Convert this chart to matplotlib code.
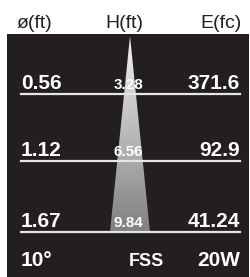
import numpy as np
import matplotlib.pyplot as plt
from matplotlib.patches import Rectangle, Polygon

# ==========================================
# BEAM DATA
# ==========================================

headers = ["ø(ft)", "H(ft)", "E(fc)"]
diameter = ["0.56", "1.12", "1.67"]
height = ["3.28", "6.56", "9.84"]
illuminance = ["371.6", "92.9", "41.24"]
footer = ["10°", "FSS", "20W"]

# ==========================================
# FIGURE (pixel coordinates)
# ==========================================

W, H = 251, 277
fig = plt.figure(figsize=(W / 100, H / 100), dpi=100)
fig.patch.set_facecolor("white")
ax = fig.add_axes([0, 0, 1, 1])
ax.set_xlim(0, W)
ax.set_ylim(H, 0)
ax.axis("off")

bg = "#231f20"
font = "Liberation Sans"
ax.add_patch(Rectangle((7, 34), 242, 243, facecolor=bg, edgecolor="none"))

# header
hx = [34, 124, 221]
for x, t in zip(hx, headers):
    ax.text(x, 28, t, ha="center", va="baseline", fontsize=14,
            color="#231f20", family=font)

# cone with gradient
apex_y, base_y = 36, 232
cone = Polygon([(130, apex_y), (150, base_y), (110, base_y)], closed=True,
               facecolor="none", edgecolor="none")
ax.add_patch(cone)
grad = np.linspace(0.95, 0.5, 200).reshape(-1, 1)
img = ax.imshow(grad, cmap="gray", vmin=0, vmax=1, aspect="auto",
                extent=[110, 150, base_y, apex_y], zorder=2)
img.set_clip_path(cone)

# rows
row_line = [94, 161, 232]
for i in range(3):
    y = row_line[i]
    ax.plot([21, 240], [y, y], color="#e6e6e6", linewidth=1.6, zorder=3)
    ax.text(21, y - 5, diameter[i], ha="left", va="baseline", fontsize=15,
            fontweight="bold", color="white", family=font, zorder=4)
    ax.text(240, y - 5, illuminance[i], ha="right", va="baseline", fontsize=15,
            fontweight="bold", color="white", family=font, zorder=4)
    ax.text(128.5, y - 5, height[i], ha="center", va="baseline", fontsize=11,
            fontweight="bold", color="white", family=font, zorder=4)

# footer
ax.text(21, 266, footer[0], ha="left", va="baseline", fontsize=15,
        fontweight="bold", color="white", family=font)
ax.text(146.5, 266, footer[1], ha="center", va="baseline", fontsize=13,
        fontweight="bold", color="white", family=font)
ax.text(240, 266, footer[2], ha="right", va="baseline", fontsize=15,
        fontweight="bold", color="white", family=font)

fig.savefig("out.png", dpi=100, facecolor="white")
